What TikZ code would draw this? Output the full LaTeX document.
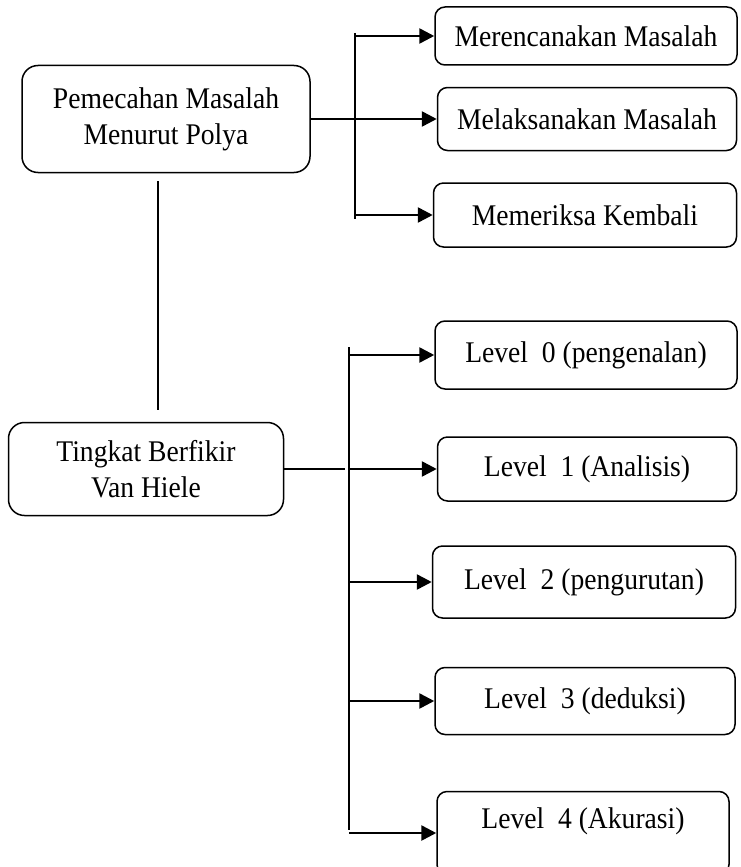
\documentclass[tikz,border=0pt]{standalone}
\usepackage{fontspec}
\setmainfont[FakeStretch=0.92]{Liberation Serif}
\usetikzlibrary{arrows.meta}
\usetikzlibrary{positioning}

\begin{document}
\begin{tikzpicture}[x=1pt, y=-1pt,
  every node/.style={rectangle, draw, line width=1.5pt, rounded corners=10pt, align=center, inner sep=2pt, font=\fontsize{30}{36}\selectfont},
  mainbox/.style={rounded corners=16pt},
  link/.style={line width=2.6pt, -{Triangle[length=15pt, width=15pt]}},
  node distance=0.8cm]

\useasboundingbox (0,0) rectangle (740,867);
\clip (0,0) rectangle (740,867);

\node[mainbox, minimum width=288pt, minimum height=107pt] (polya) at (166,119) {Pemecahan Masalah\\Menurut Polya};
\node[minimum width=302pt, minimum height=58pt] (rencana) at (586,36) {Merencanakan Masalah};
\node[minimum width=299pt, minimum height=63pt] (laksana) at (587,119) {Melaksanakan Masalah};
\node[minimum width=303pt, minimum height=64pt] (periksa) at (585,215) {Memeriksa Kembali};

\node[mainbox, minimum width=275pt, minimum height=93pt] (vanhiele) at (146,469) {Tingkat Berfikir\\Van Hiele};
\node[minimum width=302pt, minimum height=68pt] (lvl0) at (586,355) {Level\ \ 0 (pengenalan)};
\node[minimum width=299pt, minimum height=64pt] (lvl1) at (587,469) {Level\ \ 1 (Analisis)};
\node[minimum width=303pt, minimum height=72pt] (lvl2) at (584,582) {Level\ \ 2 (pengurutan)};
\node[minimum width=300pt, minimum height=67pt] (lvl3) at (585,701) {Level\ \ 3 (deduksi)};
\node[minimum width=292pt, minimum height=83pt, text height=20pt, text depth=30pt] (lvl4) at (583,833) {Level\ \ 4 (Akurasi)};

\coordinate (ptop) at (355,33);
\coordinate (pbot) at (355,219);
\coordinate (vtop) at (349,347);
\coordinate (vbot) at (349,830);
\coordinate (vjoin) at (345,469);
\coordinate (stemtop) at (158,181);
\coordinate (stembot) at (158,410);

\draw[line width=1.8pt] (ptop) -- (pbot);
\draw[line width=1.8pt] (vtop) -- (vbot);
\draw[line width=1.5pt] (stemtop) -- (stembot);
\draw[line width=1.8pt] (vanhiele.east) -- (vjoin);

\draw[link] (rencana.west -| ptop) -- (rencana.west);
\draw[link] (polya.east) -- (laksana.west);
\draw[link] (periksa.west -| ptop) -- (periksa.west);

\draw[link] (lvl0.west -| vtop) -- (lvl0.west);
\draw[link] (lvl1.west -| vtop) -- (lvl1.west);
\draw[link] (lvl2.west -| vtop) -- (lvl2.west);
\draw[link] (lvl3.west -| vtop) -- (lvl3.west);
\draw[link] (lvl4.west -| vtop) -- (lvl4.west);

\end{tikzpicture}
\end{document}
